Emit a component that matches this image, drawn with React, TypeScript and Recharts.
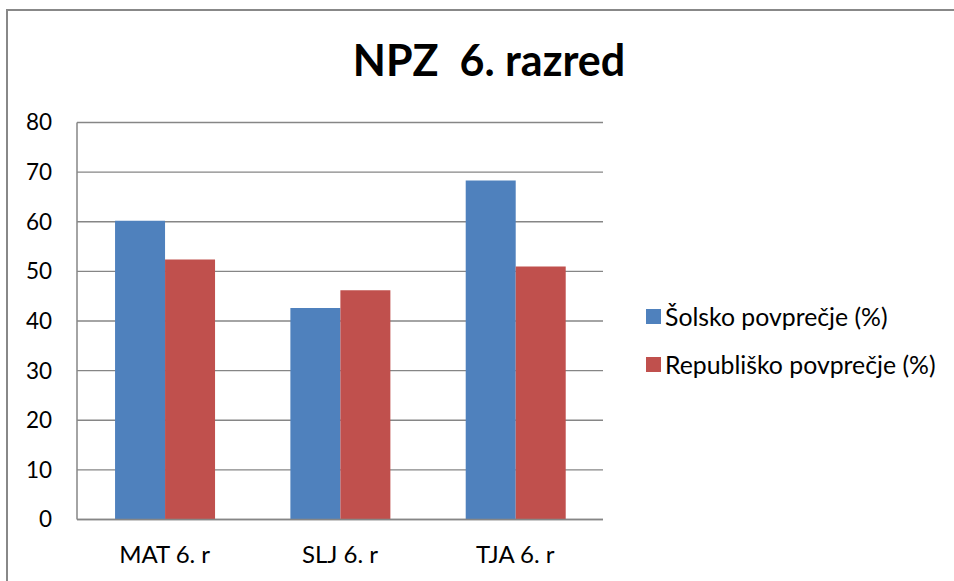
import { BarChart, Bar, XAxis, YAxis, CartesianGrid } from 'recharts'

const categories = ['MAT 6. r', 'SLJ 6. r', 'TJA 6. r']
const solskoValues = [60.2, 42.6, 68.3]
const republiskoValues = [52.4, 46.2, 51.0]
const yTicks = [0, 10, 20, 30, 40, 50, 60, 70, 80]

const SERIES = [
    { key: 'solsko', name: 'Šolsko povprečje (%)', color: '#4F81BD' },
    { key: 'republisko', name: 'Republiško povprečje (%)', color: '#C0504D' },
]

const data = categories.map((name, i) => ({
    name,
    solsko: solskoValues[i],
    republisko: republiskoValues[i],
}))

const FONT = 'Lato, "Open Sans", sans-serif'

function LegendBox() {
    return (
        <div style={{ position: 'absolute', left: 646, top: 292.5, fontFamily: FONT, fontSize: 24.8, color: '#000' }}>
            {SERIES.map((s) => (
                <div key={s.key} style={{ display: 'flex', alignItems: 'center', height: 48, whiteSpace: 'nowrap' }}>
                    <span style={{ width: 15, height: 15, background: s.color, marginRight: 4, flex: 'none' }} />
                    <span>{s.name}</span>
                </div>
            ))}
        </div>
    )
}

export default function App() {
    return (
        <div style={{ position: 'absolute', left: 0, top: 0, width: 954, height: 581, overflow: 'hidden', background: '#fff' }}>
            <div
                style={{
                    position: 'absolute',
                    left: 6,
                    top: 9,
                    width: 1000,
                    height: 700,
                    borderLeft: '2px solid #888',
                    borderTop: '2px solid #888',
                }}
            />
            <div
                style={{
                    position: 'absolute',
                    left: 0,
                    width: 978,
                    top: 32,
                    lineHeight: '56px',
                    textAlign: 'center',
                    fontFamily: FONT,
                    fontWeight: 'bold',
                    fontSize: 43,
                    whiteSpace: 'pre',
                    color: '#000',
                }}
            >
                {'NPZ  6. razred'}
            </div>
            <div style={{ position: 'absolute', left: 0, top: 0 }}>
                <BarChart
                    width={954}
                    height={581}
                    data={data}
                    margin={{ top: 122.5, right: 351, bottom: 31.5, left: 27 }}
                    barCategoryGap="21.7%"
                    barGap={0}
                >
                    <CartesianGrid vertical={false} stroke="#868686" strokeWidth={1.3} />
                    <XAxis
                        dataKey="name"
                        axisLine={{ stroke: '#868686', strokeWidth: 1.5 }}
                        tickLine={false}
                        tickSize={0}
                        tickMargin={26}
                        height={30}
                        tick={{ fill: '#000', fontSize: 24, fontFamily: FONT }}
                    />
                    <YAxis
                        domain={[0, 80]}
                        ticks={yTicks}
                        width={50}
                        axisLine={{ stroke: '#868686', strokeWidth: 1.5 }}
                        tickLine={false}
                        tickSize={0}
                        tickMargin={25}
                        tick={{ fill: '#000', fontSize: 22.5, fontFamily: FONT }}
                    />
                    {SERIES.map((s) => (
                        <Bar key={s.key} dataKey={s.key} name={s.name} fill={s.color} isAnimationActive={false} />
                    ))}
                </BarChart>
            </div>
            <LegendBox />
        </div>
    )
}
